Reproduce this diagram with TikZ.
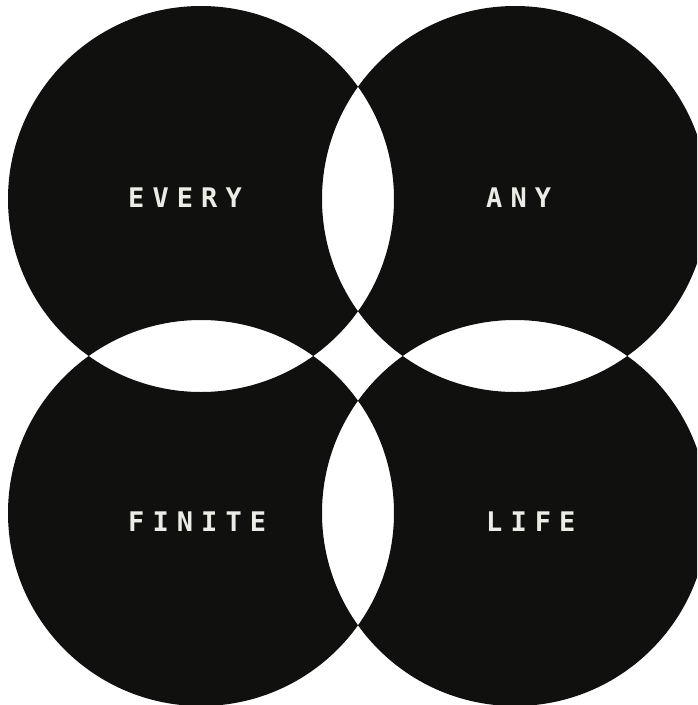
\documentclass[tikz,border=0pt]{standalone}
\usepackage{fontspec}
\usepackage{xcolor}
\usetikzlibrary{positioning}
\newfontfamily\wordfont{DejaVu Sans Mono}[LetterSpace=30]
\definecolor{InkBlack}{RGB}{16,17,14}
\definecolor{PaperWhite}{RGB}{255,255,255}
\definecolor{WordWhite}{RGB}{236,236,230}
\tikzset{
    disc/.style={fill=InkBlack, even odd rule},
    word/.style={text=WordWhite, anchor=west, inner sep=0pt, font=\wordfont\bfseries\fontsize{27}{27}\selectfont},
}
\begin{document}
\begin{tikzpicture}[x=1pt, y=-1pt]
\useasboundingbox[fill=PaperWhite] (0,0) rectangle (697,705);
\clip (0,0) rectangle (697,705);
\coordinate (tl) at (201,199);
\coordinate (tr) at (515,199);
\coordinate (bl) at (201,513);
\coordinate (br) at (515,513);

\fill[disc] (tl) circle[radius=193pt] (tr) circle[radius=193pt]
            (bl) circle[radius=193pt] (br) circle[radius=193pt];

\node[word] (every) at (128,198) {EVERY};
\node[word] (any) at (486,198) {ANY};
\node[word] (finite) at (128,522) {FINITE};
\node[word] (life) at (486,522) {LIFE};
\end{tikzpicture}
\end{document}
